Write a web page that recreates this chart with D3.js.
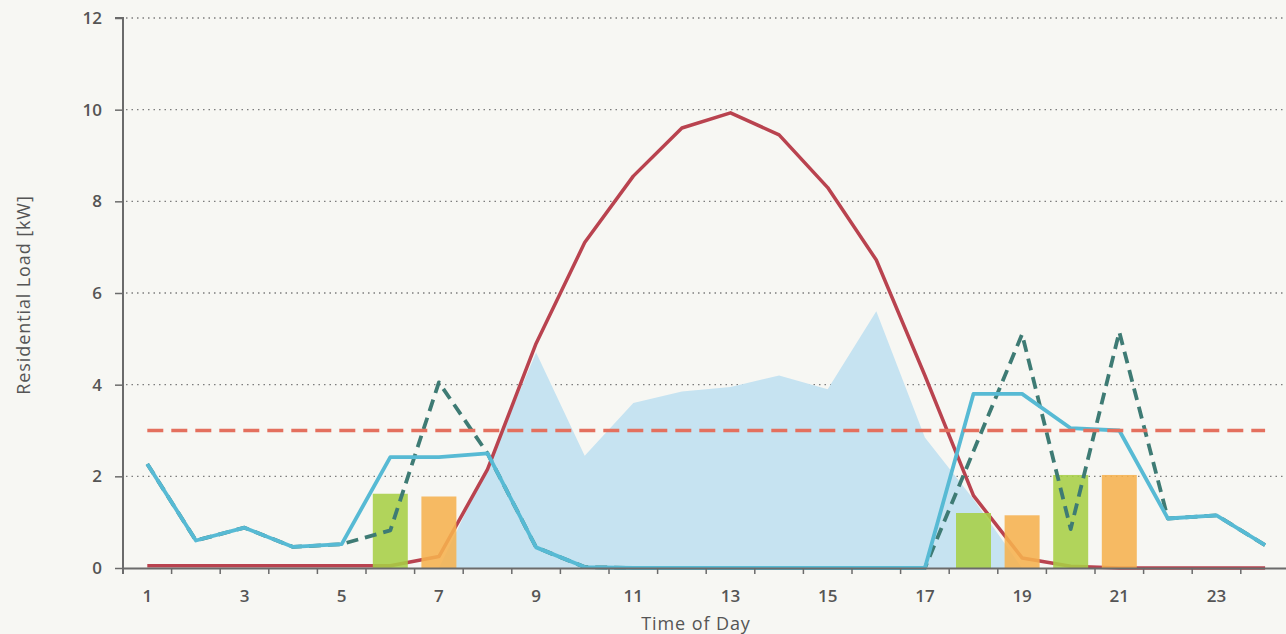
<!DOCTYPE html>
<html>
<head>
<meta charset="utf-8">
<script src="https://cdn.jsdelivr.net/npm/d3@7"></script>
<style>
  html, body { margin: 0; padding: 0; background: #f7f7f3; }
  svg { display: block; }
  text { font-family: "Open Sans", Lato, sans-serif; fill: #555; }
</style>
</head>
<body>
<svg id="chart" width="1286" height="634"></svg>
<script>
const hours = d3.range(1, 25);
const xTickLabels = [1, 3, 5, 7, 9, 11, 13, 15, 17, 19, 21, 23];
const yTicks = [0, 2, 4, 6, 8, 10, 12];

// Solar generation (red solid line)
const solar = [0.05, 0.05, 0.05, 0.05, 0.05, 0.05, 0.25, 2.15, 4.9, 7.1, 8.55, 9.6,
               9.93, 9.45, 8.3, 6.72, 4.2, 1.58, 0.22, 0.04, 0, 0, 0, 0];
// Light blue area
const areaHours = [7, 8, 9, 10, 11, 12, 13, 14, 15, 16, 17, 18, 19];
const areaValues = [0, 2.2, 4.7, 2.45, 3.6, 3.85, 3.95, 4.2, 3.9, 5.6, 2.85, 1.5, 0];
// Teal solid line
const load = [2.27, 0.6, 0.88, 0.46, 0.52, 2.42, 2.42, 2.5, 0.45, 0.02, 0, 0,
              0, 0, 0, 0, 0, 3.8, 3.8, 3.05, 3.0, 1.08, 1.15, 0.5];
// Dark dashed line
const loadAlt = [2.27, 0.6, 0.88, 0.46, 0.52, 0.82, 4.05, 2.5, 0.45, 0.02, 0, 0,
                 0, 0, 0, 0, 0, 2.55, 5.1, 0.85, 5.15, 1.08, 1.15, 0.5];
// Threshold
const threshold = 3;
// Bars
const barHours = [6, 7, 18, 19, 20, 21];
const barValues = [1.62, 1.56, 1.2, 1.15, 2.03, 2.03];
const barKinds = ["green", "orange", "green", "orange", "green", "orange"];

const svg = d3.select("#chart");
const mLeft = 123, mRight = 123 + 24 * 48.6, mTop = 18, mBottom = 568;

const x = d3.scaleBand().domain(hours).range([mLeft, mRight]).padding(0);
const xb = d3.scaleBand().domain(hours).range([mLeft, mRight]).paddingInner(0.28).paddingOuter(0.14);
const y = d3.scaleLinear().domain([0, 12]).range([mBottom, mTop]);
const cx = h => x(h) + x.bandwidth() / 2;

// gridlines
svg.append("g").selectAll("line").data(yTicks.filter(d => d > 0)).join("line")
  .attr("x1", mLeft + 3).attr("x2", 1286)
  .attr("y1", d => y(d)).attr("y2", d => y(d))
  .attr("stroke", "#7d7d7d").attr("stroke-width", 1.4)
  .attr("stroke-dasharray", "1.5,4");

// area
const area = d3.area().x((d, i) => cx(areaHours[i])).y0(y(0)).y1(d => y(d));
svg.append("path").datum(areaValues).attr("d", area).attr("fill", "#c6e3f1");

// solar line
const line = d3.line().x((d, i) => cx(hours[i])).y(d => y(d));
svg.append("path").datum(solar).attr("d", line)
  .attr("fill", "none").attr("stroke", "#b9434f").attr("stroke-width", 3.5)
  .attr("stroke-linejoin", "round");

// bars
const colors = { green: "#a7cf45", orange: "#f6b24f" };
svg.append("g").selectAll("rect").data(barValues).join("rect")
  .attr("x", (d, i) => xb(barHours[i]))
  .attr("width", xb.bandwidth())
  .attr("y", d => y(d))
  .attr("height", d => y(0) - y(d))
  .attr("fill", (d, i) => colors[barKinds[i]])
  .attr("opacity", 0.88);

// dashed alt line
svg.append("path").datum(loadAlt).attr("d", line)
  .attr("fill", "none").attr("stroke", "#3e7b74").attr("stroke-width", 3.8)
  .attr("stroke-dasharray", "12,7").attr("stroke-linejoin", "round");

// teal line
svg.append("path").datum(load).attr("d", line)
  .attr("fill", "none").attr("stroke", "#57bad4").attr("stroke-width", 3.8)
  .attr("stroke-linejoin", "round");

// threshold line
svg.append("line")
  .attr("x1", cx(1)).attr("x2", cx(24))
  .attr("y1", y(threshold)).attr("y2", y(threshold))
  .attr("stroke", "#e4705e").attr("stroke-width", 3.4)
  .attr("stroke-dasharray", "16,8");

// y axis
const yAxis = d3.axisLeft(y).tickValues(yTicks).tickSize(8).tickPadding(13).tickFormat(d3.format("d"));
const gy = svg.append("g").attr("transform", `translate(${mLeft},0)`).call(yAxis);
gy.select(".domain").attr("stroke", "#6b6b6b").attr("stroke-width", 2)
  .attr("d", `M-8,${mTop}H0V${mBottom + 6}`);
gy.selectAll(".tick line").attr("stroke", "#6b6b6b").attr("stroke-width", 1.5);
gy.selectAll(".tick text").style("font-size", "17px").style("font-weight", "600").attr("fill", "#595959");

// x axis
const xAxis = d3.axisBottom(x).tickSize(0).tickPadding(22)
  .tickFormat(d => xTickLabels.includes(d) ? d : "");
const gx = svg.append("g").attr("transform", `translate(0,${mBottom})`).call(xAxis);
gx.select(".domain").attr("stroke", "#6b6b6b").attr("stroke-width", 2.2);
gx.selectAll(".tick text").style("font-size", "17px").style("font-weight", "600").attr("fill", "#595959");
// boundary ticks
svg.append("g").selectAll("line").data(hours.slice(1)).join("line")
  .attr("x1", d => x(d)).attr("x2", d => x(d))
  .attr("y1", mBottom).attr("y2", mBottom + 6)
  .attr("stroke", "#6b6b6b").attr("stroke-width", 1.5);

// axis titles
svg.append("text").attr("x", 696).attr("y", 630).attr("text-anchor", "middle")
  .style("font-size", "18px").style("letter-spacing", "0.9px").attr("fill", "#5a5a5a").text("Time of Day");
svg.append("text").attr("transform", "translate(30,295) rotate(-90)")
  .attr("text-anchor", "middle").style("font-size", "18px").style("letter-spacing", "0.9px").attr("fill", "#5a5a5a")
  .text("Residential Load [kW]");
</script>
</body>
</html>
